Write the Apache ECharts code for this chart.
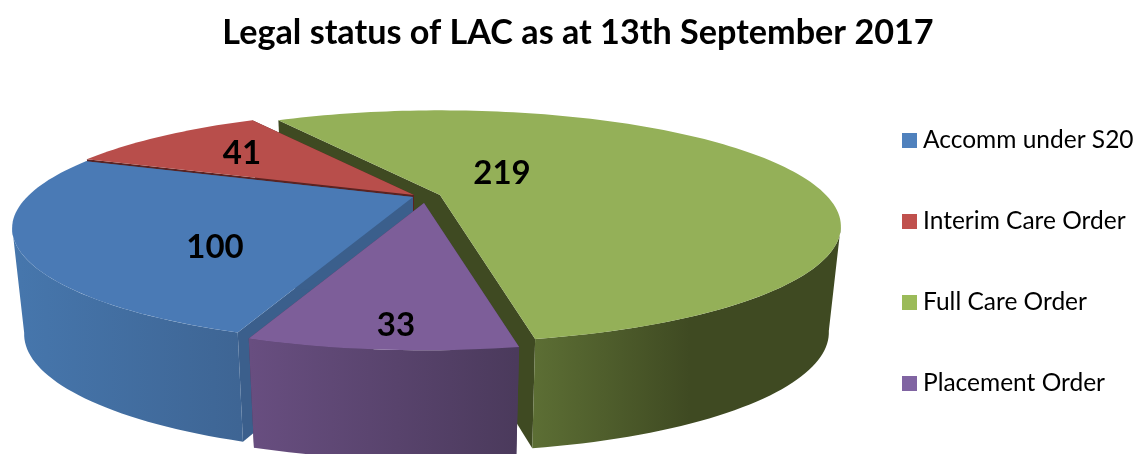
<!DOCTYPE html>
<html>
<head>
<meta charset="utf-8">
<style>
  html, body { margin: 0; background: #fff; }
  #chart { width: 1140px; height: 454px; }
</style>
<script src="https://cdn.jsdelivr.net/npm/echarts@6/dist/echarts.min.js"></script>
</head>
<body>
<div id="chart"></div>
<script>
const categories = ['Accomm under S20', 'Interim Care Order', 'Full Care Order', 'Placement Order'];
const values = [100, 41, 219, 33];

// look of the slices, same order as categories
const topColors = ['#4a7ab5', '#b84e4b', '#94b058', '#7d5e99'];
const legendColors = ['#4f81bd', '#c0504d', '#9bbb59', '#8064a2'];
const faceColors = ['#3b5f8c', '#5a2322', '#3f4a22', '#4b3a5c'];
const wallStops = [
  [[0, '#4676ac'], [1, '#3e6594']],
  [[0, '#7a3230'], [1, '#7a3230']],
  [[0, '#5c6e34'], [1, '#3f4a22']],
  [[0, '#684e80'], [1, '#4b3a5c']]
];
const wallRange = [[20, 240], [90, 260], [535, 690], [250, 516]];

// where each slice's tip lands, and its number relative to the tip
const tips = [[413, 197], [414, 195], [440, 195], [424, 203]];
const labelOffsets = [[-198, 50], [-172, -42], [62, -22], [-28, 122]];
const drawOrder = [3, 2, 1, 4];

// tilted circle, projected with some perspective
const firstAngle = 199.8;
const radiusX = 386;
const radiusY = 107.5;
const persp = 0.27;
const depth = 105;
// the wall is only seen between these angles (where the rim turns back)
const wallFrom = 105;
const wallTo = 255;

const total = values.reduce((a, b) => a + b, 0);

function project(deg) {
  const t = deg * Math.PI / 180;
  const u = Math.sin(t);
  const v = -Math.cos(t);
  const s = 1 / (1 - persp * v);
  return [radiusX * u * s, radiusY * v * s];
}

// same point on the bottom rim of the disc
function lower(p) {
  return [p[0] * 0.97, p[1] * 1.03 + depth];
}

function arc(from, to) {
  const pts = [];
  const steps = Math.ceil((to - from) / 1.5);
  for (let k = 0; k <= steps; k++) pts.push(project(from + (to - from) * k / steps));
  return pts;
}

function renderSlice(params, api) {
  const i = params.seriesIndex;
  let from = firstAngle;
  for (let k = 0; k < i; k++) from += values[k] / total * 360;
  const to = from + api.value(0) / total * 360;

  const tip = tips[i];
  const at = p => [tip[0] + p[0], tip[1] + p[1]];

  const rim = arc(from, to);
  const first = rim[0];
  const last = rim[rim.length - 1];
  const tipLow = at([0, depth]);

  const wallFill = new echarts.graphic.LinearGradient(
    wallRange[i][0], 0, wallRange[i][1], 0,
    wallStops[i].map(s => ({ offset: s[0], color: s[1] })), true
  );

  const children = [
    { type: 'polygon', shape: { points: [tip, at(first), at(lower(first)), tipLow] }, style: { fill: faceColors[i] } },
    { type: 'polygon', shape: { points: [tip, at(last), at(lower(last)), tipLow] }, style: { fill: faceColors[i] } }
  ];

  // only the front part of the outer wall, a folded strip would leave holes
  [0, 360].forEach(turn => {
    const a = Math.max(from, wallFrom + turn);
    const b = Math.min(to, wallTo + turn);
    if (b <= a) return;
    const strip = arc(a, b);
    children.push({
      type: 'polygon',
      shape: { points: strip.map(at).concat(strip.slice().reverse().map(p => at(lower(p)))) },
      style: { fill: wallFill }
    });
  });

  children.push({ type: 'polygon', shape: { points: [tip].concat(rim.map(at)) }, style: { fill: topColors[i] } });
  children.push({
    type: 'text',
    x: tip[0] + labelOffsets[i][0],
    y: tip[1] + labelOffsets[i][1],
    style: {
      text: String(api.value(0)),
      align: 'center',
      verticalAlign: 'middle',
      fill: '#000',
      font: 'bold 33px Lato'
    }
  });

  return { type: 'group', children: children };
}

const chart = echarts.init(document.getElementById('chart'), null, { renderer: 'canvas' });

chart.setOption({
  animation: false,
  backgroundColor: '#fff',
  title: {
    text: 'Legal status of LAC as at 13th September 2017',
    left: 573,
    top: 11,
    textAlign: 'center',
    textStyle: { fontFamily: 'Lato', fontWeight: 'bold', fontSize: 34.2, color: '#000' }
  },
  legend: {
    orient: 'vertical',
    left: 902,
    top: 128,
    padding: 0,
    itemWidth: 15,
    itemHeight: 15,
    itemGap: 56,
    icon: 'rect',
    selectedMode: false,
    data: categories,
    textStyle: {
      fontFamily: 'Lato',
      fontSize: 24.5,
      color: '#000',
      height: 15,
      lineHeight: 15,
      padding: [0, 0, 0, 1]
    }
  },
  series: categories.map((name, i) => ({
    type: 'custom',
    name: name,
    coordinateSystem: 'none',
    silent: true,
    clip: false,
    z: drawOrder[i],
    itemStyle: { color: legendColors[i] },
    data: [[values[i]]],
    renderItem: renderSlice
  }))
});
</script>
</body>
</html>
